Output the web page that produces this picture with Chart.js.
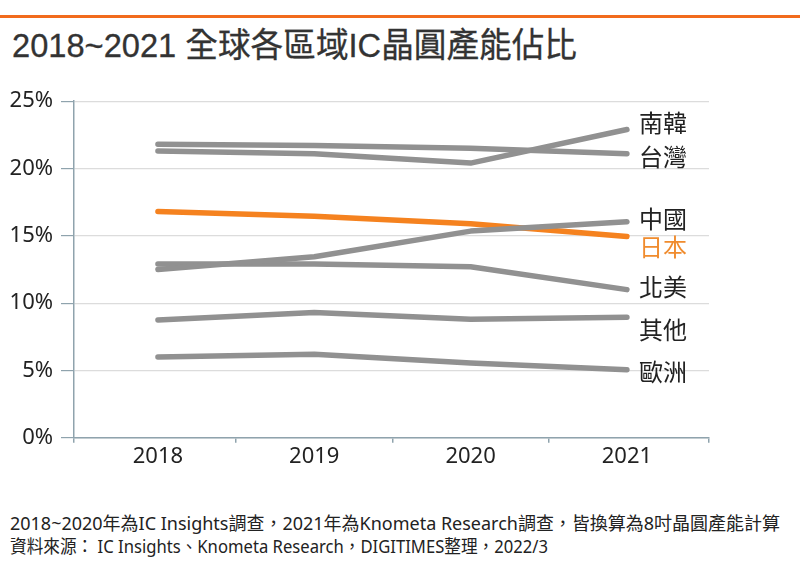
<!DOCTYPE html>
<html>
<head>
<meta charset="utf-8">
<script src="https://cdn.jsdelivr.net/npm/chart.js@4.4.0/dist/chart.umd.min.js"></script>
<style>
  html, body { margin: 0; padding: 0; background: #fff; }
  body { width: 800px; height: 569px; position: relative; overflow: hidden; font-family: "Noto Sans CJK TC", "Noto Sans", sans-serif; }
  #topbar { position: absolute; left: 0; top: 15px; width: 800px; height: 3px; background: #f26b1d; }
  .fit { position: absolute; white-space: nowrap; transform-origin: 0 50%; line-height: 1; }
  #title { left: 12px; top: 28px; font-size: 34px; font-weight: normal; color: #333; -webkit-text-stroke: 0.3px #333; font-family: "Liberation Sans", "Noto Sans CJK TC", sans-serif; }
  .note { left: 10px; font-size: 18px; color: #222; font-family: "Noto Sans", "Noto Sans CJK TC", sans-serif; }
  #wrap { position: absolute; left: 0; top: 80px; width: 800px; height: 400px; }
  .lab { position: absolute; left: 639px; font-size: 24px; line-height: 1; color: #222; font-family: "Noto Sans CJK TC", sans-serif; transform: translateY(-50%); white-space: nowrap; }
</style>
</head>
<body>
<div id="topbar"></div>
<div id="title" class="fit" data-w="565">2018~2021 全球各區域IC晶圓產能佔比</div>
<div id="wrap"><canvas id="c"></canvas></div>
<div class="note fit" style="top:514px" data-w="770">2018~2020年為IC Insights調查，2021年為Knometa Research調查，皆換算為8吋晶圓產能計算</div>
<div class="note fit" style="top:537px" data-w="538">資料來源： IC Insights、Knometa Research，DIGITIMES整理，2022/3</div>
<script>
const years = ['2018', '2019', '2020', '2021'];
const korea = [21.3, 21.1, 20.4, 22.9];
const taiwan = [21.8, 21.7, 21.5, 21.1];
const china = [12.5, 13.45, 15.35, 16.05];
const japan = [16.8, 16.45, 15.9, 14.95];
const northAmerica = [12.9, 12.9, 12.7, 11.0];
const others = [8.75, 9.3, 8.8, 8.95];
const europe = [6.0, 6.2, 5.55, 5.05];
const yTicks = [0, 5, 10, 15, 20, 25];

const GRAY = '#919191';
const ORANGE = '#f5821f';
const AXIS = '#8fa3ad';
const X_MIN = -0.537, X_MAX = 3.525;

// right-side labels (HTML), y in page pixels
const labels = [
  { t: '南韓', y: 122, c: '#222' },
  { t: '台灣', y: 156, c: '#222' },
  { t: '中國', y: 218, c: '#222' },
  { t: '日本', y: 246, c: '#f08c2e' },
  { t: '北美', y: 286, c: '#222' },
  { t: '其他', y: 329, c: '#222' },
  { t: '歐洲', y: 371, c: '#222' }
];
labels.forEach(l => {
  const d = document.createElement('div');
  d.className = 'lab';
  d.textContent = l.t;
  d.style.top = l.y + 'px';
  d.style.color = l.c;
  document.body.appendChild(d);
});

document.querySelectorAll('.fit').forEach(el => {
  const w = el.getBoundingClientRect().width;
  const target = parseFloat(el.dataset.w);
  el.style.transform = 'scaleX(' + (target / w) + ')';
});

function ds(values, color) {
  return {
    data: values.map((v, i) => ({ x: i, y: v })),
    borderColor: color,
    backgroundColor: color,
    borderWidth: 5.5,
    borderCapStyle: 'round',
    borderJoinStyle: 'round',
    pointRadius: 0,
    pointHoverRadius: 0,
    tension: 0,
    fill: false
  };
}

new Chart(document.getElementById('c'), {
  type: 'line',
  data: {
    datasets: [
      ds(taiwan, GRAY),
      ds(korea, GRAY),
      ds(china, GRAY),
      ds(northAmerica, GRAY),
      ds(others, GRAY),
      ds(europe, GRAY),
      ds(japan, ORANGE)
    ]
  },
  options: {
    responsive: true,
    maintainAspectRatio: false,
    animation: false,
    events: [],
    layout: { padding: { top: 19.5, right: 91, left: 0, bottom: 0 } },
    plugins: { legend: { display: false }, tooltip: { enabled: false } },
    scales: {
      x: {
        type: 'linear',
        min: X_MIN,
        max: X_MAX,
        afterBuildTicks: s => {
          const t = [];
          t.push({ value: X_MIN });
          years.forEach((y, i) => {
            t.push({ value: i });
            if (i < years.length - 1) t.push({ value: i + 0.5 });
          });
          t.push({ value: X_MAX });
          s.ticks = t;
        },
        border: { color: AXIS, width: 1.5 },
        grid: {
          drawOnChartArea: false,
          tickLength: 5,
          lineWidth: 1.5,
          tickColor: ctx => (Number.isInteger(ctx.tick.value) ? 'rgba(0,0,0,0)' : AXIS)
        },
        ticks: {
          color: '#222',
          font: { family: 'Noto Sans', size: 22 },
          padding: 1,
          autoSkip: false,
          maxRotation: 0,
          callback: v => (Number.isInteger(v) && years[v] !== undefined ? years[v] : '')
        },
        afterFit: s => { s.height = 42.3; }
      },
      y: {
        min: 0,
        max: 25,
        afterBuildTicks: s => { s.ticks = yTicks.map(v => ({ value: v })); },
        border: { color: AXIS, width: 1.5 },
        grid: { color: '#dcdcdc', lineWidth: 1.2, tickLength: 13, tickColor: AXIS },
        ticks: { color: '#222', font: { family: 'Noto Sans', size: 22 }, padding: 8, callback: v => v + '%' },
        afterFit: s => { s.width = 74; }
      }
    }
  }
});
</script>
</body>
</html>
